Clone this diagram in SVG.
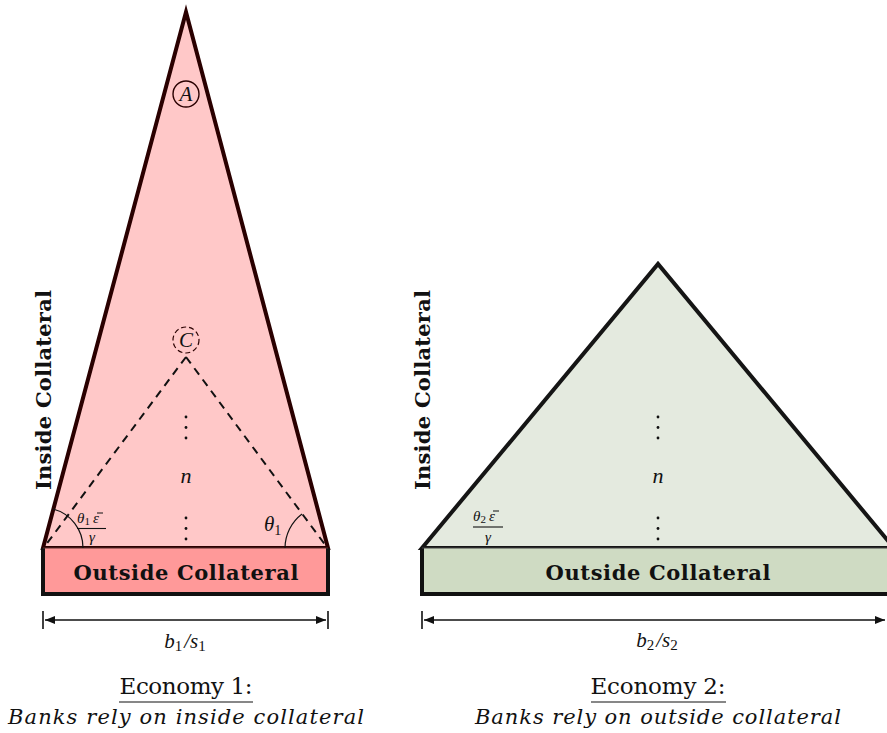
<svg xmlns="http://www.w3.org/2000/svg" width="887" height="733" viewBox="0 0 887 733">
<defs>
<style>
.serif{font-family:"DejaVu Serif","Liberation Serif",serif;fill:#111;}
.cap{font-family:"DejaVu Serif","Liberation Serif",serif;font-style:italic;fill:#111;}
.math{font-family:"Liberation Serif","DejaVu Serif",serif;font-style:italic;fill:#111;}
.bold{font-family:"DejaVu Serif","Liberation Serif",serif;font-weight:bold;fill:#111;}
.edge1{fill:#ffc8c8;stroke:#2a0000;stroke-width:4;stroke-linejoin:miter;}
.edge2{fill:#e4eadf;stroke:#151515;stroke-width:4;stroke-linejoin:miter;}
.thin{fill:none;stroke:#111;stroke-width:1.2;}
.dash{fill:none;stroke:#111;stroke-width:2;stroke-dasharray:8,6;}
.dim{stroke:#111;stroke-width:1.6;fill:none;}
.dot{fill:#111;}
.bar{stroke:#111;stroke-width:1;}
</style>
<marker id="arr" viewBox="0 0 10 10" refX="10" refY="5" markerWidth="11" markerHeight="10" markerUnits="userSpaceOnUse" orient="auto-start-reverse">
<path d="M0,1 L10,5 L0,9 Z" fill="#111"/>
</marker>
</defs>

<g id="economy1">
<polygon class="edge1" points="43,548 186,12 328,548"/>
<rect x="43" y="548" width="285" height="46" fill="#ff9999" stroke="none"/>
<polyline points="43,548 43,594 328,594 328,548" fill="none" stroke="#111" stroke-width="4"/>
<line x1="43" y1="548" x2="328" y2="548" stroke="#5a3030" stroke-width="1.2"/>
<text class="bold" x="186" y="580" font-size="21" text-anchor="middle" textLength="225" lengthAdjust="spacing">Outside Collateral</text>
<text class="bold" transform="translate(51,390) rotate(-90)" font-size="21" text-anchor="middle" textLength="200" lengthAdjust="spacing">Inside Collateral</text>
</g>

<g id="nodeA">
<circle cx="186" cy="94" r="13" fill="none" stroke="#2a0000" stroke-width="1.4"/>
<text class="math" x="186" y="101" font-size="21" text-anchor="middle">A</text>
</g>

<g id="nodeC">
<circle cx="186" cy="340" r="13" fill="none" stroke="#2a0000" stroke-width="1.2" stroke-dasharray="5,3"/>
<text class="math" x="186" y="347" font-size="21" text-anchor="middle">C</text>
</g>

<g id="connectors">
<line class="dash" x1="186" y1="357" x2="45" y2="546"/>
<line class="dash" x1="186" y1="357" x2="326" y2="546"/>
<path class="thin" d="M83,548 A40,40 0 0 0 53,509"/>
<path class="thin" d="M285,548 A43,43 0 0 1 302,514"/>
<path class="thin" d="M475,548 A53,53 0 0 0 456,507"/>
<line class="dim" x1="45" y1="620" x2="326" y2="620" marker-start="url(#arr)" marker-end="url(#arr)"/>
<line x1="43" y1="611" x2="43" y2="629" stroke="#111" stroke-width="1.6"/>
<line x1="328" y1="611" x2="328" y2="629" stroke="#111" stroke-width="1.6"/>
<line class="dim" x1="424" y1="620" x2="885" y2="620" marker-start="url(#arr)" marker-end="url(#arr)"/>
<line x1="422" y1="611" x2="422" y2="629" stroke="#111" stroke-width="1.6"/>
</g>

<g id="labels1">
<circle class="dot" cx="186" cy="417" r="1.4"/>
<circle class="dot" cx="186" cy="427.5" r="1.4"/>
<circle class="dot" cx="186" cy="438" r="1.4"/>
<text class="math" x="186" y="483" font-size="22" text-anchor="middle">n</text>
<circle class="dot" cx="186" cy="518" r="1.4"/>
<circle class="dot" cx="186" cy="528.5" r="1.4"/>
<circle class="dot" cx="186" cy="539" r="1.4"/>
<text class="math" x="77" y="523" font-size="15">θ<tspan font-size="11" dy="2" font-style="normal">1</tspan><tspan dy="-2" dx="3">ε</tspan></text>
<line class="bar" x1="97" y1="513" x2="103" y2="513"/>
<line x1="77" y1="528.5" x2="106" y2="528.5" stroke="#111" stroke-width="1.1"/>
<text class="math" x="92" y="542" font-size="15" text-anchor="middle">γ</text>
<text class="math" x="264" y="531" font-size="21">θ<tspan font-size="14" dy="4" font-style="normal">1</tspan></text>
<text class="math" x="185" y="648" font-size="21" text-anchor="middle">b<tspan font-size="15" dy="3" font-style="normal">1</tspan><tspan dy="-3" dx="2">/s</tspan><tspan font-size="15" dy="3" font-style="normal">1</tspan></text>
<text class="serif" x="186" y="694" font-size="23" text-anchor="middle" textLength="133" lengthAdjust="spacing">Economy 1:</text>
<line x1="119" y1="702" x2="253" y2="702" stroke="#111" stroke-width="1.2"/>
<text class="cap" x="186" y="724" font-size="21" text-anchor="middle" textLength="356" lengthAdjust="spacing">Banks rely on inside collateral</text>
</g>

<g id="economy2">
<polygon class="edge2" points="422,548 658,264 894,548"/>
<rect x="422" y="548" width="472" height="46" fill="#cfdbc3" stroke="none"/>
<polyline points="422,548 422,594 894,594 894,548" fill="none" stroke="#111" stroke-width="4"/>
<line x1="422" y1="548" x2="894" y2="548" stroke="#444" stroke-width="1.2"/>
<text class="bold" x="658" y="580" font-size="21" text-anchor="middle" textLength="225" lengthAdjust="spacing">Outside Collateral</text>
<text class="bold" transform="translate(430,390) rotate(-90)" font-size="21" text-anchor="middle" textLength="200" lengthAdjust="spacing">Inside Collateral</text>
</g>

<g id="labels2">
<circle class="dot" cx="658" cy="417" r="1.4"/>
<circle class="dot" cx="658" cy="427.5" r="1.4"/>
<circle class="dot" cx="658" cy="438" r="1.4"/>
<text class="math" x="658" y="483" font-size="22" text-anchor="middle">n</text>
<circle class="dot" cx="658" cy="518" r="1.4"/>
<circle class="dot" cx="658" cy="528.5" r="1.4"/>
<circle class="dot" cx="658" cy="539" r="1.4"/>
<text class="math" x="473" y="521" font-size="15">θ<tspan font-size="11" dy="2" font-style="normal">2</tspan><tspan dy="-2" dx="3">ε</tspan></text>
<line class="bar" x1="493" y1="511" x2="499" y2="511"/>
<line x1="473" y1="527" x2="503" y2="527" stroke="#111" stroke-width="1.1"/>
<text class="math" x="488" y="542" font-size="15" text-anchor="middle">γ</text>
<text class="math" x="657" y="647" font-size="21" text-anchor="middle">b<tspan font-size="15" dy="3" font-style="normal">2</tspan><tspan dy="-3" dx="2">/s</tspan><tspan font-size="15" dy="3" font-style="normal">2</tspan></text>
<text class="serif" x="658" y="694" font-size="23" text-anchor="middle" textLength="135" lengthAdjust="spacing">Economy 2:</text>
<line x1="591" y1="702" x2="726" y2="702" stroke="#111" stroke-width="1.2"/>
<text class="cap" x="658" y="724" font-size="21" text-anchor="middle" textLength="366" lengthAdjust="spacing">Banks rely on outside collateral</text>
</g>
</svg>
